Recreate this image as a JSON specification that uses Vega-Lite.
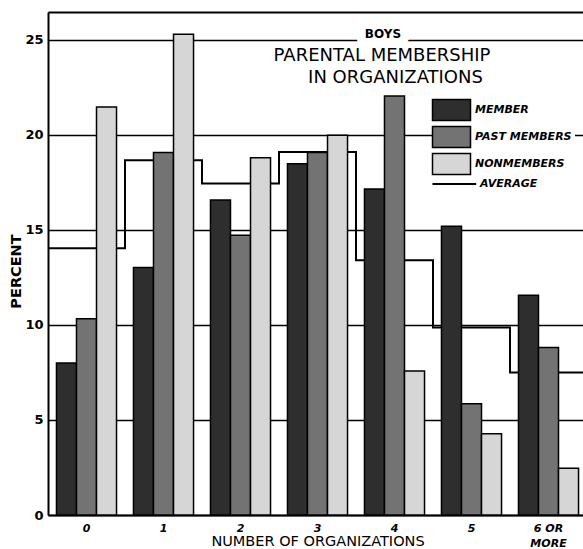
{
  "$schema": "https://vega.github.io/schema/vega-lite/v6.json",
  "width": 535,
  "height": 503,
  "autosize": {"type": "none"},
  "padding": {"left": 48, "top": 12, "right": 0, "bottom": 34},
  "background": "white",
  "config": {"view": {"stroke": null}, "font": "DejaVu Sans"},
  "datasets": {
    "bars": [
      {"orgs": "0", "series": "MEMBER", "pct": 8.0},
      {"orgs": "0", "series": "PAST MEMBERS", "pct": 10.33},
      {"orgs": "0", "series": "NONMEMBERS", "pct": 21.47},
      {"orgs": "1", "series": "MEMBER", "pct": 13.02},
      {"orgs": "1", "series": "PAST MEMBERS", "pct": 19.07},
      {"orgs": "1", "series": "NONMEMBERS", "pct": 25.3},
      {"orgs": "2", "series": "MEMBER", "pct": 16.58},
      {"orgs": "2", "series": "PAST MEMBERS", "pct": 14.72},
      {"orgs": "2", "series": "NONMEMBERS", "pct": 18.8},
      {"orgs": "3", "series": "MEMBER", "pct": 18.49},
      {"orgs": "3", "series": "PAST MEMBERS", "pct": 19.07},
      {"orgs": "3", "series": "NONMEMBERS", "pct": 19.98},
      {"orgs": "4", "series": "MEMBER", "pct": 17.16},
      {"orgs": "4", "series": "PAST MEMBERS", "pct": 22.05},
      {"orgs": "4", "series": "NONMEMBERS", "pct": 7.58},
      {"orgs": "5", "series": "MEMBER", "pct": 15.2},
      {"orgs": "5", "series": "PAST MEMBERS", "pct": 5.86},
      {"orgs": "5", "series": "NONMEMBERS", "pct": 4.28},
      {"orgs": "6 OR MORE", "series": "MEMBER", "pct": 11.56},
      {"orgs": "6 OR MORE", "series": "PAST MEMBERS", "pct": 8.81},
      {"orgs": "6 OR MORE", "series": "NONMEMBERS", "pct": 2.46}
    ],
    "avg": [
      {"k": 0, "avg": 14.04},
      {"k": 1, "avg": 18.67},
      {"k": 2, "avg": 17.44},
      {"k": 3, "avg": 19.1},
      {"k": 4, "avg": 13.4},
      {"k": 5, "avg": 9.87},
      {"k": 6, "avg": 7.5},
      {"k": 7, "avg": 7.5}
    ]
  },
  "layer": [
    {
      "layer": [
        {
          "data": {"name": "avg"},
          "mark": {"type": "line", "interpolate": "step-after", "color": "black", "strokeWidth": 2},
          "encoding": {
            "x": {"field": "k", "type": "quantitative",
                  "scale": {"domain": [0, 7], "range": [0, 539], "nice": false, "zero": false},
                  "axis": {"orient": "top", "title": null, "labels": false, "ticks": false, "grid": false, "domainColor": "black", "domainWidth": 2}},
            "y": {"field": "avg", "type": "quantitative", "scale": {"domain": [0, 26.47], "nice": false}}
          }
        },
        {
          "data": {"values": [{}]},
          "mark": {"type": "text", "text": "BOYS", "font": "DejaVu Sans", "fontWeight": "bold", "fontSize": 12, "baseline": "alphabetic", "align": "center", "fill": "white", "stroke": "white", "strokeWidth": 18, "strokeJoin": "round"},
          "encoding": {"x": {"datum": 4.35, "type": "quantitative"}, "y": {"datum": 25.09, "type": "quantitative"}}
        },
        {
          "data": {"values": [{}]},
          "mark": {"type": "text", "text": "BOYS", "font": "DejaVu Sans", "fontWeight": "bold", "fontSize": 12, "baseline": "alphabetic", "align": "center", "color": "black"},
          "encoding": {"x": {"datum": 4.35, "type": "quantitative"}, "y": {"datum": 25.09, "type": "quantitative"}}
        },
        {
          "data": {"values": [{}]},
          "mark": {"type": "text", "text": "PARENTAL MEMBERSHIP", "font": "DejaVu Sans", "fontSize": 18, "baseline": "alphabetic", "align": "center", "color": "black"},
          "encoding": {"x": {"datum": 4.338, "type": "quantitative"}, "y": {"datum": 23.9, "type": "quantitative"}}
        },
        {
          "data": {"values": [{}]},
          "mark": {"type": "text", "text": "IN ORGANIZATIONS", "font": "DejaVu Sans", "fontSize": 18, "baseline": "alphabetic", "align": "center", "color": "black"},
          "encoding": {"x": {"datum": 4.513, "type": "quantitative"}, "y": {"datum": 22.72, "type": "quantitative"}}
        }
      ]
    },
    {
      "data": {"name": "bars"},
      "mark": {"type": "bar", "stroke": "black", "strokeWidth": 1.5},
      "encoding": {
        "x": {"field": "orgs", "type": "nominal", "sort": null,
              "scale": {"range": [0, 539], "paddingInner": 0.22, "paddingOuter": 0.11},
              "axis": {"title": "NUMBER OF ORGANIZATIONS", "titleFont": "DejaVu Sans", "titleFontSize": 14.5, "titleFontWeight": "normal", "titleColor": "black", "titleBaseline": "alphabetic", "titleY": 30.5,
                       "labelFont": "DejaVu Sans", "labelFontSize": 11, "labelFontWeight": "bold", "labelFontStyle": "italic", "labelColor": "black", "labelPadding": 7, "labelLineHeight": 15, "labelAngle": 0,
                       "ticks": false, "domainColor": "black", "domainWidth": 2,
                       "labelExpr": "datum.value == '6 OR MORE' ? ['6   OR', 'MORE'] : datum.label"}},
        "xOffset": {"field": "series", "type": "nominal", "sort": ["MEMBER", "PAST MEMBERS", "NONMEMBERS"], "scale": {"paddingInner": 0, "paddingOuter": 0}},
        "y": {"field": "pct", "type": "quantitative",
              "scale": {"domain": [0, 26.47], "nice": false},
              "axis": {"title": "PERCENT", "titleFont": "DejaVu Sans", "titleFontSize": 14.5, "titleFontWeight": "bold", "titleColor": "black", "titleBaseline": "alphabetic", "titleX": -28, "titleY": 259, "titleAlign": "center", "titleAngle": -90,
                       "values": [0, 5, 10, 15, 20, 25],
                       "labelFont": "DejaVu Sans", "labelFontSize": 13, "labelFontWeight": "bold", "labelColor": "black", "labelPadding": 5,
                       "ticks": false, "grid": true, "gridColor": "black", "gridWidth": 1.3, "gridOpacity": 1,
                       "domainColor": "black", "domainWidth": 2}},
        "fill": {"field": "series", "type": "nominal",
                 "scale": {"domain": ["MEMBER", "PAST MEMBERS", "NONMEMBERS", "AVERAGE"], "range": ["#2e2e2e", "#737373", "#d6d6d6", "#000000"]},
                 "legend": {"title": null, "orient": "none", "legendX": 395, "legendY": 89.5,
                            "fillColor": "white", "padding": 3,
                            "symbolType": "M-1,-0.55H1V0.55H-1Z", "symbolSize": 1444,
                            "symbolStrokeColor": "black", "symbolStrokeWidth": 1.5, "symbolOpacity": 1,
                            "labelFont": "DejaVu Sans", "labelFontWeight": "bold", "labelFontStyle": "italic", "labelFontSize": 11, "labelColor": "black",
                            "labelOffset": 18, "labelLimit": 300, "rowPadding": 0,
                            "encode": {
                              "symbols": {"update": {
                                "shape": {"signal": "datum.value === 'AVERAGE' ? 'M-1,0H1.3' : 'M-1,-0.55H1V0.55H-1Z'"},
                                "strokeWidth": {"signal": "datum.value === 'AVERAGE' ? 2 : 1.5"}}},
                              "labels": {"update": {"dx": {"signal": "datum.value === 'AVERAGE' ? 5 : 0"}}}
                            }}}
      }
    }
  ],
  "resolve": {"scale": {"x": "independent"}}
}
